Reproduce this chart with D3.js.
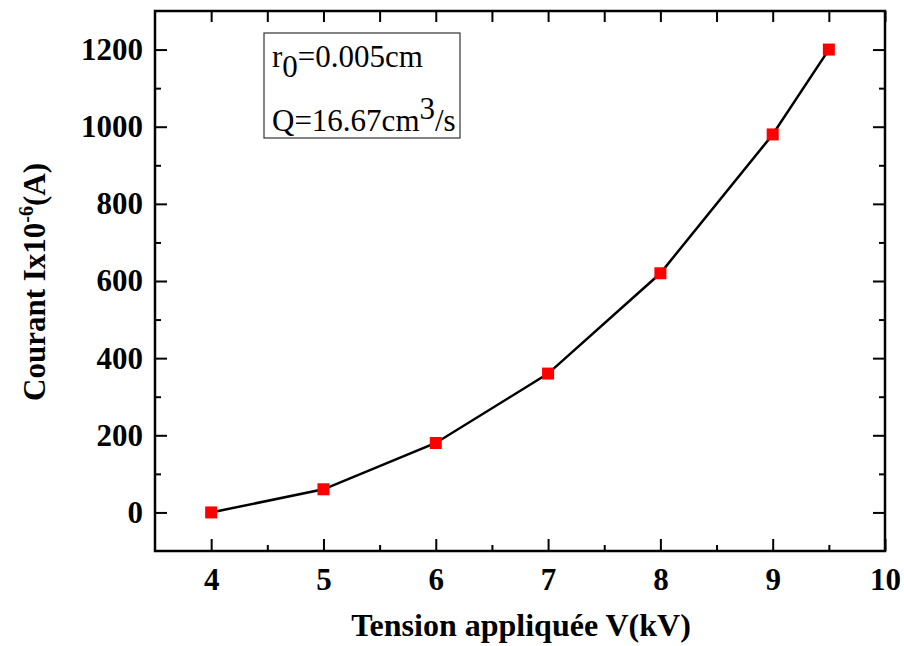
<!DOCTYPE html>
<html>
<head>
<meta charset="utf-8">
<script src="https://cdn.jsdelivr.net/npm/d3@7"></script>
<style>
  body { margin: 0; background: #fff; }
  svg { display: block; font-family: "Liberation Serif", "Times New Roman", serif; }
</style>
</head>
<body>
<script>
// data
var tension = [4, 5, 6, 7, 8, 9, 9.5];
var courant = [0, 60, 180, 360, 620, 980, 1200];
var xTickLabels = [4, 5, 6, 7, 8, 9, 10];
var yTickLabels = [0, 200, 400, 600, 800, 1000, 1200];
var xMinor = [4.5, 5.5, 6.5, 7.5, 8.5, 9.5];
var yMinor = [100, 300, 500, 700, 900, 1100];
var legendLines = ["r0=0.005cm", "Q=16.67cm3/s"];

var svgWidth = 904, svgHeight = 646;
var margin = {top: 11, right: 19, bottom: 95, left: 155};
var chartWidth = svgWidth - margin.left - margin.right;
var chartHeight = svgHeight - margin.top - margin.bottom;

var svg = d3.select("body").append("svg")
  .attr("width", svgWidth)
  .attr("height", svgHeight);

var chartGroup = svg.append("g")
  .attr("transform", `translate(${margin.left}, ${margin.top})`);

var x = d3.scaleLinear().domain([3.5, 10]).range([0, chartWidth]);
var y = d3.scaleLinear().domain([-100, 1300]).range([chartHeight, 0]);

// axes: ticks point inward, labels bold serif
function styleAxis(g) {
  g.attr("font-family", null);
  g.select(".domain").remove();
  g.selectAll(".tick line").attr("stroke", "#000").attr("stroke-width", 2);
  g.selectAll(".tick text").attr("fill", "#000")
    .style("font-family", "'Liberation Serif', serif")
    .style("font-size", "31px").style("font-weight", "bold");
}

chartGroup.append("g")
  .attr("transform", `translate(0, ${chartHeight})`)
  .call(d3.axisBottom(x).tickValues(xTickLabels).tickSize(-12).tickPadding(17).tickFormat(d3.format("d")))
  .call(styleAxis);
chartGroup.append("g")
  .attr("transform", `translate(0, ${chartHeight})`)
  .call(d3.axisBottom(x).tickValues(xMinor).tickSize(-6).tickFormat(""))
  .call(styleAxis);

chartGroup.append("g")
  .call(d3.axisTop(x).tickValues(xTickLabels.concat(xMinor)).tickSize(-11).tickFormat(""))
  .call(styleAxis);

chartGroup.append("g")
  .call(d3.axisLeft(y).tickValues(yTickLabels).tickSize(-12).tickPadding(12).tickFormat(d3.format("d")))
  .call(styleAxis);
chartGroup.append("g")
  .call(d3.axisLeft(y).tickValues(yMinor).tickSize(-6).tickFormat(""))
  .call(styleAxis);

chartGroup.append("g")
  .attr("transform", `translate(${chartWidth}, 0)`)
  .call(d3.axisRight(y).tickValues(yTickLabels).tickSize(-12).tickFormat(""))
  .call(styleAxis);
chartGroup.append("g")
  .attr("transform", `translate(${chartWidth}, 0)`)
  .call(d3.axisRight(y).tickValues(yMinor).tickSize(-6).tickFormat(""))
  .call(styleAxis);

// frame
chartGroup.append("rect")
  .attr("width", chartWidth).attr("height", chartHeight)
  .attr("fill", "none").attr("stroke", "#000").attr("stroke-width", 2.5);

// line + markers
var points = tension.map((t, i) => [t, courant[i]]);
chartGroup.append("path")
  .datum(points)
  .attr("fill", "none")
  .attr("stroke", "#000")
  .attr("stroke-width", 2.5)
  .attr("d", d3.line().x(d => x(d[0])).y(d => y(d[1])));

chartGroup.selectAll(".marker").data(points).enter()
  .append("rect")
  .attr("class", "marker")
  .attr("x", d => x(d[0]) - 6)
  .attr("y", d => y(d[1]) - 6)
  .attr("width", 12).attr("height", 12)
  .attr("fill", "#ff0000");

// legend box
var legend = svg.append("g").attr("transform", "translate(264, 33)");
legend.append("rect")
  .attr("width", 196).attr("height", 105)
  .attr("fill", "#fff").attr("stroke", "#333").attr("stroke-width", 1.2);

var l1 = legend.append("text").attr("x", 8).attr("y", 34).style("font-size", "31px");
l1.append("tspan").text(legendLines[0].slice(0, 1));
l1.append("tspan").attr("dy", 10).text(legendLines[0].slice(1, 2));
l1.append("tspan").attr("dy", -10).text(legendLines[0].slice(2));

var l2 = legend.append("text").attr("x", 8).attr("y", 98).style("font-size", "31px");
l2.append("tspan").text(legendLines[1].slice(0, 9));
l2.append("tspan").attr("dy", -12).text(legendLines[1].slice(9, 10));
l2.append("tspan").attr("dy", 12).text(legendLines[1].slice(10));

// axis titles
svg.append("text")
  .attr("x", 521)
  .attr("y", 636)
  .attr("text-anchor", "middle")
  .style("font-size", "32px").style("font-weight", "bold")
  .text("Tension appliquée V(kV)");

var yTitle = svg.append("text")
  .attr("transform", "translate(45, 282) rotate(-90)")
  .attr("text-anchor", "middle")
  .style("font-size", "31px").style("font-weight", "bold");
yTitle.append("tspan").text("Courant Ix10");
yTitle.append("tspan").attr("dy", -12).style("font-size", "20px").text("-6");
yTitle.append("tspan").attr("dy", 12).text("(A)");
</script>
</body>
</html>
